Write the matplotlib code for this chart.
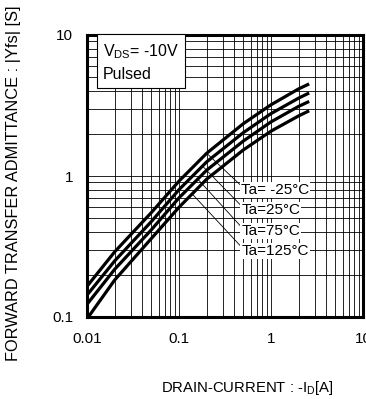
import matplotlib
matplotlib.use("Agg")
import matplotlib.pyplot as plt
import numpy as np

plt.rcParams['font.family'] = ['Liberation Sans', 'DejaVu Sans']
plt.rcParams['mathtext.fontset'] = 'custom'
plt.rcParams['mathtext.rm'] = 'Liberation Sans'

# drain current [A]
i_d = [0.01, 0.02, 0.05, 0.1, 0.2, 0.5, 1.0, 2.0, 2.6]
# |Yfs| [S] for each ambient temperature
yfs_m25 = [0.165, 0.29, 0.55, 0.92, 1.45, 2.35, 3.2, 4.15, 4.5]
yfs_25 = [0.143, 0.25, 0.475, 0.80, 1.26, 2.03, 2.77, 3.57, 3.88]
yfs_75 = [0.123, 0.218, 0.415, 0.70, 1.10, 1.77, 2.42, 3.12, 3.38]
yfs_125 = [0.097, 0.183, 0.36, 0.60, 0.95, 1.53, 2.08, 2.67, 2.9]

labels = ["Ta= -25\u00b0C", "Ta=25\u00b0C", "Ta=75\u00b0C", "Ta=125\u00b0C"]
series = [yfs_m25, yfs_25, yfs_75, yfs_125]

fig = plt.figure(figsize=(3.66, 3.99), dpi=100)
ax = fig.add_axes([87/366, 1-317/399, 276/366, 282/399])
ax.set_xscale('log')
ax.set_yscale('log')
ax.set_xlim(0.01, 10)
ax.set_ylim(0.1, 10)
ax.set_axisbelow(True)
ax.grid(which='both', color='k', lw=0.6)
for s in ax.spines.values():
    s.set_linewidth(2.2)

for ys in series:
    ax.plot(i_d, ys, color='k', lw=2.3, solid_capstyle='butt')

ax.set_xticks([0.01, 0.1, 1, 10])
ax.set_xticklabels(["0.01", "0.1", "1", "10"])
ax.set_yticks([0.1, 1, 10])
ax.set_yticklabels(["0.1", "1", "10"])
ax.tick_params(which='both', length=0, labelsize=11)
ax.tick_params(axis='x', pad=11)
ax.tick_params(axis='y', pad=10)

# leader lines from curve to label
lx = np.log10(i_d)
start_x = [0.2, 0.18, 0.16, 0.139]
label_y = [0.796, 0.574, 0.407, 0.294]
for ys, lab, sx, ly in zip(series, labels, start_x, label_y):
    sy = 10 ** np.interp(np.log10(sx), lx, np.log10(ys))
    ax.annotate(lab, xy=(sx, sy), xytext=(0.475, ly), fontsize=11,
                ha='left', va='center', zorder=6,
                bbox=dict(boxstyle='square,pad=0.05', fc='white', ec='none'),
                arrowprops=dict(arrowstyle='-', lw=0.6, color='k',
                                shrinkA=0, shrinkB=0, relpos=(0, 0.8)))

ax.text(0.058, 0.975, "V$_{\\mathregular{DS}}$= -10V\nPulsed",
        transform=ax.transAxes, ha='left', va='top', fontsize=11.5,
        linespacing=1.55, zorder=6,
        bbox=dict(boxstyle='square,pad=0.38', fc='white', ec='k', lw=0.8))

fig.text(14/366, 1-183/399, "FORWARD TRANSFER ADMITTANCE : |Yfs| [S]",
         rotation=90, ha='center', va='center', fontsize=11.8)
fig.text(247/366, 1-388/399, "DRAIN-CURRENT : -I$_{\\mathregular{D}}$[A]",
         ha='center', va='center', fontsize=10.7)

fig.savefig("out.png", dpi=100)
